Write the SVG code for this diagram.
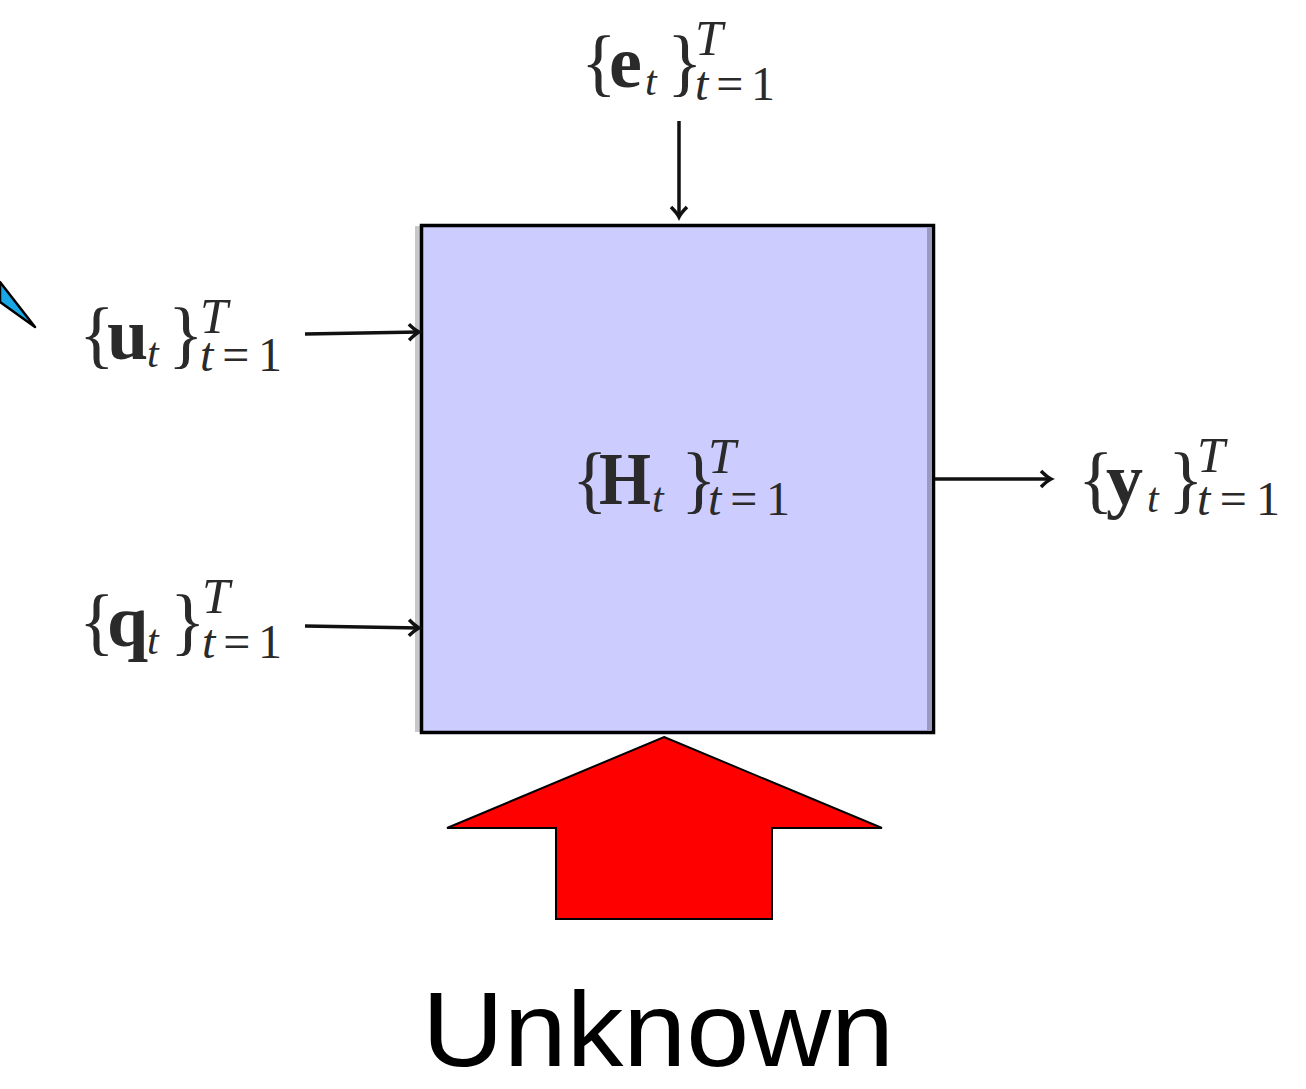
<svg xmlns="http://www.w3.org/2000/svg" width="1306" height="1089" viewBox="0 0 1306 1089">
<style>
.m{font-family:"Liberation Serif","DejaVu Serif",serif;font-size:74px;fill:#2a2a2a}
.b{font-weight:bold}
.i{font-style:italic}
.st{font-size:42px;font-style:italic}
.sp{font-size:50px;font-style:italic}
.sb{font-size:48px}
.ln{stroke:#111;stroke-width:3.5;fill:none}
.lbl{font-family:"Liberation Sans",Arial,sans-serif;font-size:106px;fill:#000}
</style>
<defs>
<marker id="ah" markerUnits="userSpaceOnUse" markerWidth="24" markerHeight="24" refX="0" refY="0" viewBox="-14 -12 16 24" orient="auto" overflow="visible">
<path d="M-10,-8 Q-4,-2 0,0 Q-4,2 -10,8" stroke="#111" stroke-width="3.5" fill="none"/>
</marker>
</defs>
<g id="callout">
<polygon points="0,282 35,327 0,302" fill="#1aa7e6" stroke="#000" stroke-width="2.5" stroke-linejoin="round"/>
</g>
<g id="system">
<rect x="415" y="226" width="6" height="506" fill="#c8c8c8"/>
<rect x="421.5" y="225.5" width="512" height="507" fill="#ccccff" stroke="#000" stroke-width="3.5"/>
<rect x="927" y="228" width="5" height="502" fill="#9a9ac0"/>
<text class="m"><tspan x="572" y="504">{</tspan><tspan class="b" x="599" textLength="52" lengthAdjust="spacingAndGlyphs">H</tspan><tspan class="st" x="652" y="512">t</tspan><tspan x="681" y="504">}</tspan><tspan class="sp" x="708" y="473">T</tspan><tspan class="sb" x="708" y="515" textLength="82"><tspan class="i">t</tspan>=1</tspan></text>
</g>
<g id="unknown">
<polygon points="664,737 882,828 772,828 772,919 556,919 556,828 447,828" fill="#ff0000" stroke="#000" stroke-width="2" stroke-linejoin="miter"/>
<text class="lbl" x="422" y="1066" textLength="472" lengthAdjust="spacingAndGlyphs">Unknown</text>
</g>
<g id="in-u">
<text class="m"><tspan x="79" y="359">{</tspan><tspan class="b" x="107">u</tspan><tspan class="st" x="147" y="367">t</tspan><tspan x="168" y="359">}</tspan><tspan class="sp" x="200" y="333">T</tspan><tspan class="sb" x="200" y="371" textLength="82"><tspan class="i">t</tspan>=1</tspan></text>
</g>
<g id="in-q">
<text class="m"><tspan x="79" y="646">{</tspan><tspan class="b" x="107">q</tspan><tspan class="st" x="147" y="654">t</tspan><tspan x="170" y="646">}</tspan><tspan class="sp" x="202" y="613">T</tspan><tspan class="sb" x="202" y="658" textLength="80"><tspan class="i">t</tspan>=1</tspan></text>
</g>
<g id="in-e">
<text class="m"><tspan x="581" y="87">{</tspan><tspan class="b" x="609">e</tspan><tspan class="st" x="645" y="95">t</tspan><tspan x="667" y="87">}</tspan><tspan class="sp" x="695" y="55">T</tspan><tspan class="sb" x="695" y="100" textLength="80"><tspan class="i">t</tspan>=1</tspan></text>
</g>
<g id="out-y">
<text class="m"><tspan x="1078" y="504">{</tspan><tspan class="b" x="1106">y</tspan><tspan class="st" x="1147" y="512">t</tspan><tspan x="1168" y="504">}</tspan><tspan class="sp" x="1197" y="472">T</tspan><tspan class="sb" x="1197" y="515" textLength="83"><tspan class="i">t</tspan>=1</tspan></text>
</g>
<g id="connectors">
<line class="ln" x1="305" y1="334" x2="419" y2="332" marker-end="url(#ah)"/>
<line class="ln" x1="305" y1="626" x2="419" y2="628" marker-end="url(#ah)"/>
<line class="ln" x1="679" y1="121" x2="679" y2="217" marker-end="url(#ah)"/>
<line class="ln" x1="935" y1="479" x2="1051" y2="479" marker-end="url(#ah)"/>
</g>
</svg>
